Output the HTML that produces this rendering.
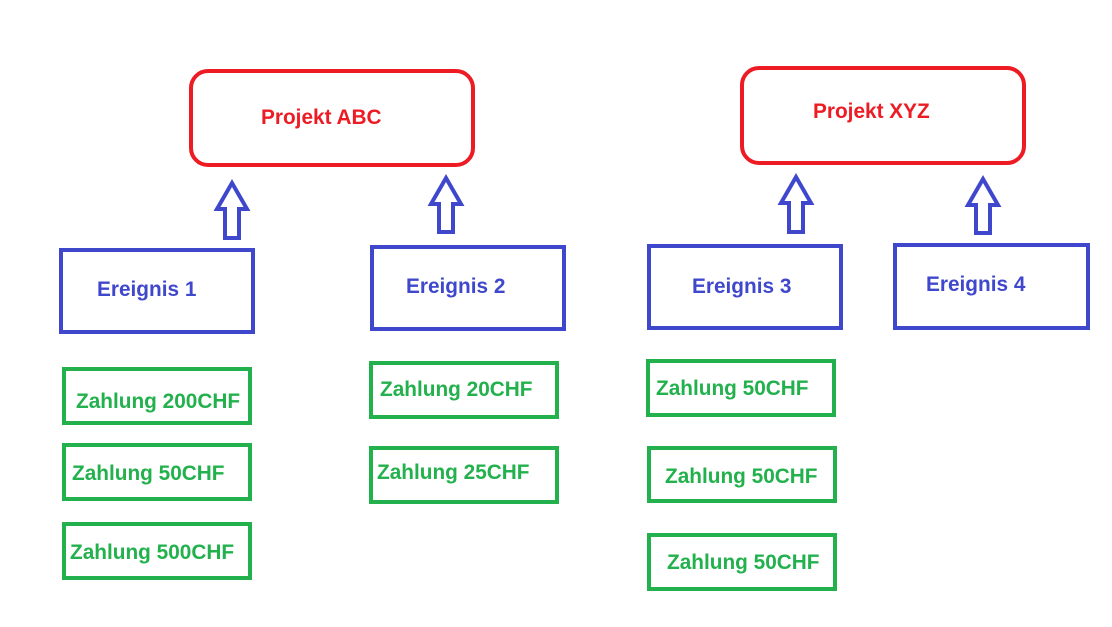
<!DOCTYPE html>
<html><head><meta charset="utf-8"><style>
html,body{margin:0;padding:0;background:#fff;}
svg{display:block;}
text{font-family:"Liberation Sans",Arial,sans-serif;font-weight:bold;font-size:20.8px;}
</style></head><body>
<svg width="1112" height="627" viewBox="0 0 1112 627" xmlns="http://www.w3.org/2000/svg">
<g fill="none" stroke="#ed1c24" stroke-width="4">
<rect x="191" y="71" width="282" height="94" rx="17"/>
<rect x="742" y="68" width="282" height="95" rx="17"/>
</g>
<g fill="none" stroke="#3f48cc" stroke-width="4" stroke-linejoin="miter">
<path d="M232 183 L247 209 L239 209 L239 238 L225 238 L225 209 L217 209 Z"/>
<path d="M446 178 L461 204 L453 204 L453 232 L439 232 L439 204 L431 204 Z"/>
<path d="M796 177 L811 203 L803 203 L803 232 L789 232 L789 203 L781 203 Z"/>
<path d="M983 179 L998 205 L990 205 L990 233 L976 233 L976 205 L968 205 Z"/>
<rect x="61" y="250" width="192" height="82"/>
<rect x="372" y="247" width="192" height="82"/>
<rect x="649" y="246" width="192" height="82"/>
<rect x="895" y="245" width="193" height="83"/>
</g>
<g fill="none" stroke="#22b14c" stroke-width="4">
<rect x="64" y="369" width="186" height="54"/>
<rect x="64" y="445" width="186" height="54"/>
<rect x="64" y="524" width="186" height="54"/>
<rect x="371" y="363" width="186" height="54"/>
<rect x="371" y="448" width="186" height="54"/>
<rect x="648" y="361" width="186" height="54"/>
<rect x="649" y="448" width="186" height="53"/>
<rect x="649" y="535" width="186" height="54"/>
</g>
<g fill="#ed1c24">
<text x="261" y="124">Projekt ABC</text>
<text x="813" y="118">Projekt XYZ</text>
</g>
<g fill="#3f48cc">
<text x="97" y="296">Ereignis 1</text>
<text x="406" y="293">Ereignis 2</text>
<text x="692" y="293">Ereignis 3</text>
<text x="926" y="291">Ereignis 4</text>
</g>
<g fill="#22b14c">
<text x="76" y="408">Zahlung 200CHF</text>
<text x="72" y="480">Zahlung 50CHF</text>
<text x="70" y="559">Zahlung 500CHF</text>
<text x="380" y="396">Zahlung 20CHF</text>
<text x="377" y="479">Zahlung 25CHF</text>
<text x="656" y="395">Zahlung 50CHF</text>
<text x="665" y="483">Zahlung 50CHF</text>
<text x="667" y="569">Zahlung 50CHF</text>
</g>
</svg>
</body></html>
